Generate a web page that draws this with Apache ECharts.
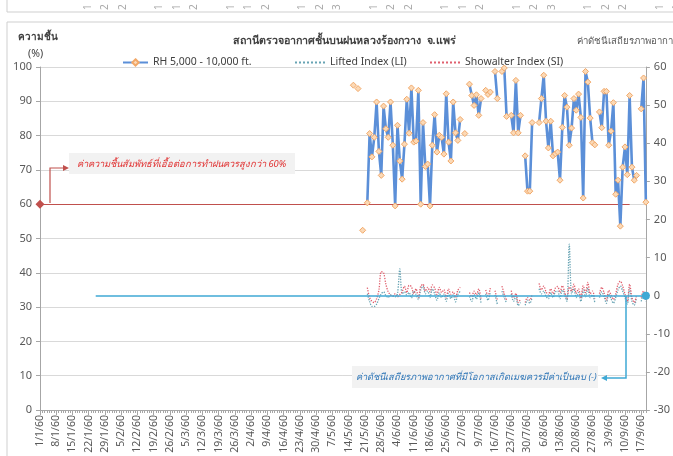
<!DOCTYPE html>
<html><head><meta charset="utf-8">
<script src="https://cdn.jsdelivr.net/npm/echarts@6/dist/echarts.min.js"></script>
<style>html,body{margin:0;padding:0;background:#fff;overflow:hidden}#c{width:673px;height:456px}</style>
</head><body><div id="c"></div>
<script>
// ---- data (day index 135 = 16/5/60 ... 261 = 19/9/60) ----
const totalDays = 262;           // 1/1/60 .. 19/9/60
const firstObsDay = 135;
const rhValues = [94.7,null,93.7,null,52.4,null,
 60.4,80.6,73.8,79.5,89.8,75.4,68.4,88.6,82.0,79.5,89.8,77.2,59.5,83.0,72.6,67.3,77.5,90.6,80.7,93.9,
 78.1,78.4,93.2,60.0,83.8,71.0,71.7,59.5,77.2,86.1,75.2,80.1,79.5,74.6,92.2,78.1,72.6,89.8,80.8,78.6,84.7,
 null,80.6,null,95.0,91.7,88.8,91.9,85.9,90.8,null,93.2,92.0,92.7,null,98.7,90.8,null,98.7,99.7,85.6,null,
 85.9,80.8,96.1,80.8,85.9,null,74.1,63.8,63.8,83.8,null,null,83.8,90.8,97.6,84.2,76.4,84.2,74.1,74.7,75.2,
 67.0,82.4,91.7,88.3,77.2,82.2,90.8,87.4,92.1,85.3,61.8,98.7,95.6,85.1,77.9,77.3,null,86.9,82.3,92.9,92.9,
 77.2,81.3,89.6,62.9,67.0,53.6,70.8,76.7,68.6,91.7,70.8,67.0,68.4,null,87.8,96.8,60.6];
const liValues = [0.5,null,0.8,null,-0.2,null,
 0.5,-1.5,-2.8,-2.8,-2.2,-0.8,0.5,1.0,0.0,-0.5,0.2,0.0,-0.3,0.5,7.0,0.5,1.0,0.2,0.8,-0.6,
 1.2,0.3,-1.0,1.5,2.5,0.5,1.2,-0.5,1.8,0.5,-1.2,0.8,-0.5,0.4,-1.5,0.6,-0.8,0.2,-1.6,0.3,1.2,
 null,-0.8,null,-0.2,-1.5,0.3,-0.9,0.8,-2.0,null,0.5,-1.2,1.0,null,0.2,-2.2,null,1.2,-0.5,-2.0,null,
 0.5,-1.5,-0.2,-2.6,-1.8,null,-2.5,-1.2,-2.0,-0.5,null,null,1.8,0.5,1.2,-0.2,-0.8,0.8,-0.5,1.0,1.2,
 -0.8,1.5,0.2,-1.5,13.5,0.5,1.8,-0.5,0.8,-1.5,1.5,-0.3,2.0,-0.5,0.2,-1.8,null,-0.5,1.0,-0.3,-2.0,
 0.4,-0.8,-2.0,-0.5,1.5,2.5,1.2,-0.5,-2.2,1.8,-1.5,-2.5,-0.5,null,-1.5,0.5,-1.5];
const siValues = [1.2,null,2.0,null,0.3,null,
 2.1,-0.5,-1.5,-1.8,-0.8,1.5,6.3,6.0,3.0,1.0,0.2,-0.2,0.5,-0.3,0.3,1.0,2.5,0.8,2.7,2.4,
 0.5,1.8,-0.5,2.5,3.0,1.2,2.2,1.0,2.8,2.0,0.3,2.2,0.8,1.6,-0.6,1.8,0.4,1.0,-0.5,1.4,2.2,
 null,0.3,null,0.8,-0.3,1.2,0.2,1.8,-0.8,null,1.5,0.0,2.0,null,1.3,-1.0,null,2.5,0.5,-1.2,null,
 1.3,-0.5,0.6,-1.8,-1.0,null,-1.8,-0.5,-1.2,0.3,null,null,3.2,1.5,2.5,1.0,0.2,1.8,0.5,2.0,2.4,
 0.8,2.6,1.0,-0.8,2.3,1.2,3.0,0.6,1.8,-0.6,2.6,0.8,3.5,0.5,1.2,-0.8,null,0.5,2.2,0.8,-1.2,
 1.4,0.2,-1.0,0.5,3.0,3.8,2.5,0.4,-1.5,3.0,-0.5,-1.8,0.3,null,-0.5,1.2,-0.3];
const seriesNames = ['RH 5,000 - 10,000 ft.','Lifted Index (LI)','Showalter Index (SI)'];
const rhThreshold = 60;
const stabilityZero = 0;
// tick labels of the chart above, cut off at the top edge (first characters only)
const cutLabelsAbove = ['1','2','2','1','1','2','1','1','2','1','2','3','1','2','2','1','1','2','1','2','3','1','2','2','1','1'];

// ---- build ----
const categories = [];
for (let i = 0; i < totalDays; i++) {
  const d = new Date(2017, 0, 1 + i);
  categories.push(d.getDate() + '/' + (d.getMonth() + 1) + '/60');
}
function pad(arr) {
  const out = new Array(totalDays).fill(null);
  arr.forEach((v, i) => { out[firstObsDay + i] = v; });
  return out;
}
const FONT = "'Noto Sans', 'DejaVu Sans', sans-serif";
const chart = echarts.init(document.getElementById('c'), null, {renderer: 'canvas'});
const gridL = 40, gridR = 25, gridT = 67, gridB = 46;
const legendText = {fontSize: 10.5, color: '#404040', fontFamily: FONT};

const topCut = cutLabelsAbove.map((t, i) => {
  const g = Math.floor(i / 3), k = i % 3;
  return {type: 'text', x: 88 + g * 71.5 + k * 17.5, y: 10, rotation: Math.PI / 2,
    style: {text: t, fontSize: 10, fill: '#a8a8a8', fontFamily: FONT, verticalAlign: 'middle', align: 'left'}};
});

chart.setOption({
  animation: false,
  backgroundColor: '#fff',
  textStyle: {fontFamily: FONT},
  grid: {left: gridL, right: gridR, top: gridT, bottom: gridB, containLabel: false},
  legend: [
    {top: 52, left: 117, itemWidth: 25, itemHeight: 8, itemGap: 0, textStyle: legendText,
      data: [{name: seriesNames[0]}]},
    {top: 52, left: 289, itemWidth: 30, itemHeight: 8, itemGap: 0, textStyle: legendText,
      data: [{name: seriesNames[1], itemStyle: {opacity: 0}}]},
    {top: 52, left: 424, itemWidth: 30, itemHeight: 8, itemGap: 0, textStyle: legendText,
      data: [{name: seriesNames[2], itemStyle: {opacity: 0}}]}
  ],
  xAxis: [{
    type: 'category', data: categories, boundaryGap: false,
    axisLine: {onZero: false, lineStyle: {color: '#a6a6a6'}},
    axisTick: {show: true, interval: 0, length: 3, lineStyle: {color: '#a6a6a6'}},
    axisLabel: {interval: 6, rotate: 90, fontSize: 10.5, color: '#595959', margin: 5, fontFamily: FONT},
    splitLine: {show: false}
  }, {
    type: 'category', data: categories, boundaryGap: false, position: 'bottom',
    axisLine: {show: false, onZero: false},
    axisTick: {show: true, interval: 6, length: 5, lineStyle: {color: '#a6a6a6'}},
    axisLabel: {show: false}
  }],
  yAxis: [{
    type: 'value', min: 0, max: 100, interval: 10,
    axisLine: {show: true, lineStyle: {color: '#a6a6a6'}},
    axisTick: {show: true, length: 4, lineStyle: {color: '#a6a6a6'}},
    axisLabel: {fontSize: 11, color: '#595959', margin: 8, fontFamily: FONT},
    splitLine: {show: true, lineStyle: {color: '#d9d9d9', width: 1}}
  }, {
    type: 'value', min: -30, max: 60, interval: 10, position: 'right',
    axisLine: {show: true, lineStyle: {color: '#a6a6a6'}},
    axisTick: {show: true, length: 4, lineStyle: {color: '#a6a6a6'}},
    axisLabel: {fontSize: 11, color: '#595959', margin: 8, fontFamily: FONT},
    splitLine: {show: false}
  }],
  series: [{
    name: seriesNames[0], type: 'line', yAxisIndex: 0, data: pad(rhValues),
    symbol: 'diamond', symbolSize: 6, showAllSymbol: true, connectNulls: false,
    lineStyle: {color: '#5b8fd8', width: 2.6},
    itemStyle: {color: '#fbd9b6', borderColor: '#f2a868', borderWidth: 1},
    z: 5,
    markLine: {
      silent: true, symbol: ['diamond', 'none'], symbolSize: 9,
      label: {show: false},
      lineStyle: {color: '#c0504d', width: 1.2, type: 'solid'},
      data: [[{coord: [0, rhThreshold], itemStyle: {color: '#e03131'}}, {coord: [254, rhThreshold]}]]
    }
  }, {
    name: seriesNames[1], type: 'line', yAxisIndex: 1, data: pad(liValues),
    symbol: 'none', smooth: 0.3, connectNulls: false,
    lineStyle: {color: '#68a4b4', width: 1.3, type: 'dotted'},
    itemStyle: {color: '#68a4b4'},
    z: 3,
    markLine: {
      silent: true, symbol: ['none', 'circle'], symbolSize: 8,
      label: {show: false},
      lineStyle: {color: '#3fa9d5', width: 1.5, type: 'solid'},
      data: [[{coord: [24, stabilityZero]}, {coord: [261, stabilityZero]}]]
    }
  }, {
    name: seriesNames[2], type: 'line', yAxisIndex: 1, data: pad(siValues),
    symbol: 'none', smooth: 0.3, connectNulls: false,
    lineStyle: {color: '#e0606e', width: 1.3, type: 'dotted'},
    itemStyle: {color: '#e0606e'},
    z: 4
  }],
  graphic: topCut.concat([
    // frame remnants
    {type: 'line', shape: {x1: 7, y1: 12, x2: 673, y2: 12}, style: {stroke: '#cfcfcf', lineWidth: 1}},
    {type: 'line', shape: {x1: 7, y1: 0, x2: 7, y2: 12}, style: {stroke: '#cfcfcf', lineWidth: 1}},
    {type: 'line', shape: {x1: 7, y1: 22, x2: 7, y2: 456}, style: {stroke: '#cfcfcf', lineWidth: 1}},
    {type: 'line', shape: {x1: 7, y1: 22, x2: 673, y2: 22}, style: {stroke: '#cfcfcf', lineWidth: 1}},
    // headings
    {type: 'text', left: 18, top: 32, style: {text: 'ความชื้น', fontSize: 10, fontWeight: 'bold', fill: '#404040', fontFamily: FONT}},
    {type: 'text', left: 28, top: 49, style: {text: '(%)', fontSize: 10.5, fill: '#404040', fontFamily: FONT}},
    {type: 'text', left: 233, top: 35, style: {text: 'สถานีตรวจอากาศชั้นบนฝนหลวงร้องกวาง  จ.แพร่', fontSize: 10.7, fontWeight: 'bold', fill: '#404040', fontFamily: FONT}},
    {type: 'text', left: 577, top: 36, style: {text: 'ค่าดัชนีเสถียรภาพอากาศ', fontSize: 9.6, fill: '#595959', fontFamily: FONT}},
    // RH annotation
    {type: 'rect', shape: {x: 69, y: 153, width: 226, height: 21}, style: {fill: '#f2f2f2'}, z: 10},
    {type: 'text', x: 77, y: 164, z: 11, style: {text: 'ค่าความชื้นสัมพัทธ์ที่เอื้อต่อการทำฝนควรสูงกว่า 60%', fontSize: 9.4, fontStyle: 'italic', fill: '#e03131', verticalAlign: 'middle', fontFamily: FONT}},
    {type: 'polyline', z: 11, shape: {points: [[50, 203], [50, 168], [64, 168]]}, style: {stroke: '#c0504d', lineWidth: 1.2, fill: null}},
    {type: 'polygon', z: 11, shape: {points: [[63, 165], [69, 168], [63, 171]]}, style: {fill: '#c0504d'}},
    // stability annotation
    {type: 'rect', shape: {x: 352, y: 366, width: 246, height: 22}, style: {fill: '#f2f2f2'}, z: 10},
    {type: 'text', x: 356, y: 377, z: 11, style: {text: 'ค่าดัชนีเสถียรภาพอากาศที่มีโอกาสเกิดเมฆควรมีค่าเป็นลบ (-)', fontSize: 9.3, fontStyle: 'italic', fill: '#2e75b6', verticalAlign: 'middle', fontFamily: FONT}},
    {type: 'polyline', z: 11, shape: {points: [[626, 296], [626, 378], [606, 378]]}, style: {stroke: '#3fa9d5', lineWidth: 1.5, fill: null}},
    {type: 'polygon', z: 11, shape: {points: [[607, 375], [601, 378], [607, 381]]}, style: {fill: '#3fa9d5'}}
  ])
});
</script></body></html>
